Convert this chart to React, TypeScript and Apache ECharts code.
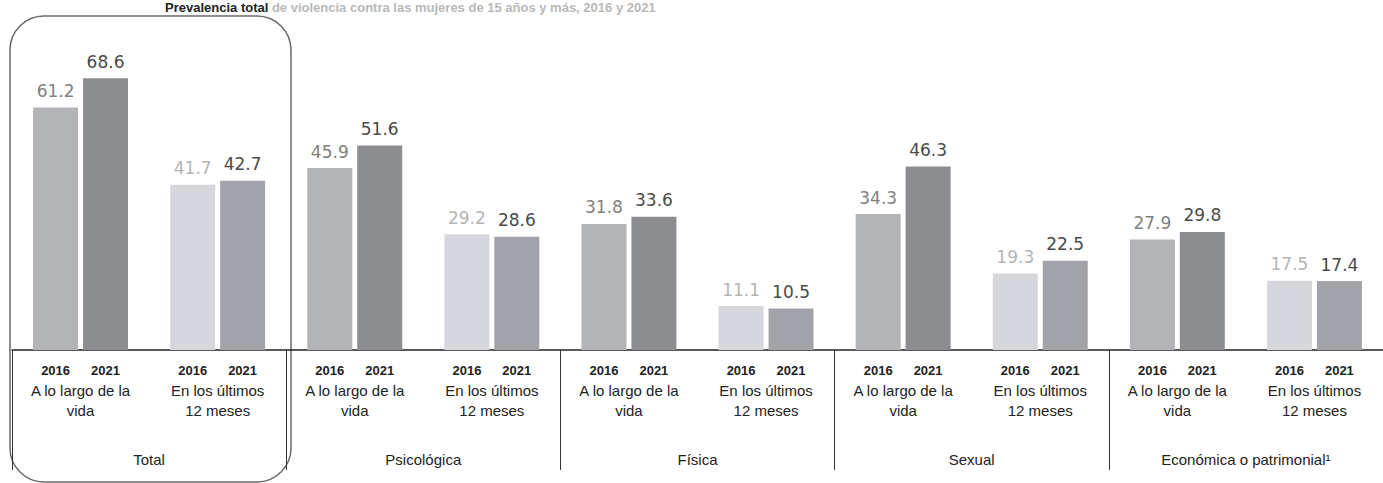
import { useEffect, useRef } from "react";
import * as echarts from "echarts";

const types = ["Total", "Psicológica", "Física", "Sexual", "Económica o patrimonial¹"];
const periods = ["A lo largo de la\nvida", "En los últimos\n12 meses"];
const years = ["2016", "2021"];
const categories = types.flatMap(() => periods);
const values2016 = [61.2, 41.7, 45.9, 29.2, 31.8, 11.1, 34.3, 19.3, 27.9, 17.5];
const values2021 = [68.6, 42.7, 51.6, 28.6, 33.6, 10.5, 46.3, 22.5, 29.8, 17.4];

const titleBold = "Prevalencia total";
const titleRest = " de violencia contra las mujeres de 15 años y más, 2016 y 2021";

const barColors2016 = ["#b3b4b8", "#d6d7dc"];
const barColors2021 = ["#8c8d91", "#a2a3a8"];
const labelColors2016 = ["#808080", "#b4b4b4"];
const labelColors2021 = ["#4a4a4a", "#4a4a4a"];

export default function App() {
  const ref = useRef<HTMLDivElement>(null);
  useEffect(() => {
    if (!ref.current) return;
    const chart = echarts.init(ref.current, null, { renderer: "svg" });
    const mk = (vals: number[], bar: string[], lab: string[]) =>
      vals.map((v, i) => ({
        value: v,
        itemStyle: { color: bar[i % 2] },
        label: { color: lab[i % 2] },
      }));
    chart.setOption({
      animation: false,
      backgroundColor: "#ffffff",
      grid: { left: 12, width: 1378, top: 33, bottom: 133, containLabel: false },
      xAxis: [
        {
          type: "category",
          data: categories,
          position: "bottom",
          axisLine: { show: true, lineStyle: { color: "#222", width: 1.5 } },
          axisTick: { show: false },
          axisLabel: {
            interval: 0,
            margin: 10,
            formatter: (val: string) => {
              const lines = val.split("\n");
              return `{y|${years[0]}}{g| }{y|${years[1]}}\n{c|${lines[0]}}\n{c|${lines[1]}}`;
            },
            rich: {
              y: { fontFamily: "Liberation Sans, Arial", fontWeight: "bold", fontSize: 13, color: "#222", lineHeight: 20 },
              g: { width: 21, fontSize: 13, lineHeight: 20 },
              c: { fontFamily: "Liberation Sans, Arial", fontSize: 15, color: "#222", lineHeight: 20.5 },
            },
          },
        },
        {
          type: "category",
          data: types,
          position: "bottom",
          gridIndex: 0,
          axisLine: { show: false },
          axisTick: { show: true, length: 120, interval: 0, lineStyle: { color: "#333", width: 1 } },
          axisLabel: {
            interval: 0,
            margin: 99,
            fontFamily: "Liberation Sans, Arial",
            fontSize: 15,
            color: "#222",
            lineHeight: 20,
          },
        },
      ],
      yAxis: { type: "value", min: 0, max: 80, show: false },
      series: [
        {
          name: years[0],
          type: "bar",
          xAxisIndex: 0,
          barWidth: 45,
          barGap: "11%",
          data: mk(values2016, barColors2016, labelColors2016),
          label: { show: true, position: "top", distance: 8, fontFamily: "DejaVu Sans", fontSize: 17 },
        },
        {
          name: years[1],
          type: "bar",
          xAxisIndex: 0,
          barWidth: 45,
          barGap: "11%",
          data: mk(values2021, barColors2021, labelColors2021),
          label: { show: true, position: "top", distance: 8, fontFamily: "DejaVu Sans", fontSize: 17 },
        },
      ],
      graphic: [
        {
          type: "rect",
          shape: { x: 10, y: 16, width: 281, height: 466, r: 34 },
          style: { fill: "none", stroke: "#6a6a6a", lineWidth: 1.5 },
          silent: true,
          z: 0,
        },
        {
          type: "text",
          x: 165,
          y: 1,
          style: {
            text: `{b|${titleBold}}{r|${titleRest}}`,
            verticalAlign: "top",
            rich: {
              b: { fontFamily: "Liberation Sans, Arial", fontWeight: "bold", fontSize: 13, fill: "#222" },
              r: { fontFamily: "Liberation Sans, Arial", fontWeight: "bold", fontSize: 13, fill: "#b8b8b8" },
            },
          },
        },
      ],
    });
    return () => chart.dispose();
  }, []);
  return (
    <div
      ref={ref}
      style={{ position: "absolute", left: 0, top: 0, width: 1383, height: 483, background: "#fff" }}
    />
  );
}
